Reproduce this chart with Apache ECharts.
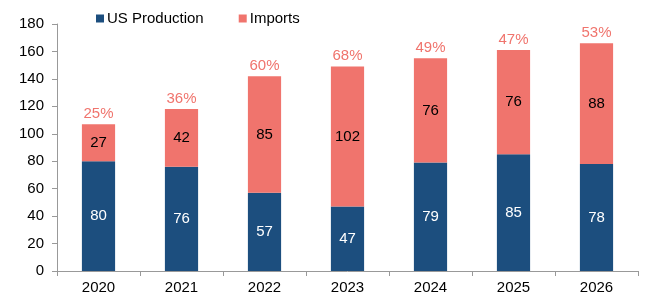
<!DOCTYPE html>
<html><head><meta charset="utf-8">
<script src="https://cdn.jsdelivr.net/npm/echarts@6/dist/echarts.min.js"></script>
<style>html,body{margin:0;padding:0;background:#fff}#c{width:645px;height:299px}</style>
</head><body><div id="c"></div>
<script>
const categories = ['2020','2021','2022','2023','2024','2025','2026'];
const usProduction = [80,76,57,47,79,85,78];
const imports = [27,42,85,102,76,76,88];
const importShare = ['25%','36%','60%','68%','49%','47%','53%'];
const yTicks = [0,20,40,60,80,100,120,140,160,180];

const chart = echarts.init(document.getElementById('c'), null, {renderer:'canvas'});
const font = 'Liberation Sans, Arial, sans-serif';
chart.setOption({
  animation:false,
  textStyle:{fontFamily:font},
  grid:{left:57,right:7,top:24,bottom:28},
  legend:{
    top:6,left:91,padding:5,itemWidth:8,itemHeight:8,itemGap:35,icon:'rect',
    textStyle:{fontFamily:font,fontSize:15,color:'#000',padding:[0,0,0,-2]},
    data:['US Production','Imports']
  },
  xAxis:{
    type:'category',data:categories,
    axisLine:{lineStyle:{color:'#999'}},
    axisTick:{show:true,alignWithLabel:false,length:5,lineStyle:{color:'#999'}},
    axisLabel:{fontFamily:font,fontSize:15,color:'#000',margin:9}
  },
  yAxis:{
    type:'value',min:0,max:180,interval:20,
    axisLine:{show:true,lineStyle:{color:'#999'}},
    axisTick:{show:true,length:5,lineStyle:{color:'#999'}},
    splitLine:{show:false},
    axisLabel:{fontFamily:font,fontSize:15,color:'#000',margin:13,
      formatter:v=>yTicks.includes(v)?String(v):''}
  },
  series:[
    {name:'US Production',type:'bar',stack:'t',data:usProduction,barWidth:'40%',
     itemStyle:{color:'#1C4E7E'},
     label:{show:true,position:'inside',color:'#fff',fontSize:15,fontFamily:font}},
    {name:'Imports',type:'bar',stack:'t',data:imports,barWidth:'40%',
     itemStyle:{color:'#F0746D'},
     label:{show:true,position:'inside',color:'#000',fontSize:15,fontFamily:font}},
    {name:'share',type:'bar',stack:'t',data:imports.map(()=>0),barWidth:'40%',
     itemStyle:{color:'transparent'},legendHoverLink:false,
     label:{show:true,position:'top',distance:3,color:'#F0746D',fontSize:15,fontFamily:font,
       formatter:p=>importShare[p.dataIndex]}}
  ]
});
</script></body></html>
